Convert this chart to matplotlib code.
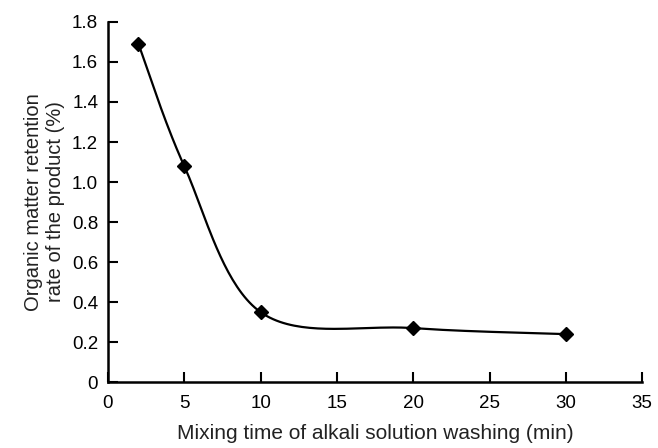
import numpy as np
import matplotlib
matplotlib.use('Agg')
import matplotlib.pyplot as plt

plt.rcParams['font.family'] = ['Liberation Sans', 'DejaVu Sans']

# data
mixing_time = [2, 5, 10, 20, 30]
retention = [1.69, 1.08, 0.35, 0.27, 0.24]

x_ticks = [0, 5, 10, 15, 20, 25, 30, 35]
y_ticks = [0, 0.2, 0.4, 0.6, 0.8, 1.0, 1.2, 1.4, 1.6, 1.8]
y_tick_labels = ['0', '0.2', '0.4', '0.6', '0.8', '1.0', '1.2', '1.4', '1.6', '1.8']


def smooth_line(xs, ys, n=40):
    # Excel style smoothed line: cubic bezier with catmull-rom control points
    xs = np.asarray(xs, float)
    ys = np.asarray(ys, float)
    px = np.concatenate([[xs[0]], xs, [xs[-1]]])
    py = np.concatenate([[ys[0]], ys, [ys[-1]]])
    out_x, out_y = [], []
    t = np.linspace(0, 1, n)
    for i in range(1, len(px) - 2):
        p0 = np.array([px[i], py[i]])
        p3 = np.array([px[i + 1], py[i + 1]])
        p1 = p0 + (np.array([px[i + 1], py[i + 1]]) - np.array([px[i - 1], py[i - 1]])) / 6
        p2 = p3 - (np.array([px[i + 2], py[i + 2]]) - np.array([px[i], py[i]])) / 6
        b = ((1 - t) ** 3)[:, None] * p0 + (3 * (1 - t) ** 2 * t)[:, None] * p1 \
            + (3 * (1 - t) * t ** 2)[:, None] * p2 + (t ** 3)[:, None] * p3
        out_x.extend(b[:, 0])
        out_y.extend(b[:, 1])
    return out_x, out_y


fig = plt.figure(figsize=(6.58, 4.48), dpi=100)
ax = fig.add_axes([0.164, 0.147, 0.812, 0.804])

sx, sy = smooth_line(mixing_time, retention)
ax.plot(sx, sy, color='black', lw=1.6)
ax.plot(mixing_time, retention, linestyle='none', marker='D', markersize=7,
        color='black')

ax.set_xlim(0, 35)
ax.set_ylim(0, 1.8)
ax.set_xticks(x_ticks)
ax.set_yticks(y_ticks)
ax.set_yticklabels(y_tick_labels)

for side in ['top', 'right']:
    ax.spines[side].set_visible(False)
for side in ['left', 'bottom']:
    ax.spines[side].set_linewidth(1.8)
ax.tick_params(direction='in', length=7, width=1.5, labelsize=13.5)
ax.tick_params(axis='x', pad=9)
ax.tick_params(axis='y', pad=7)

ax.set_xlabel('Mixing time of alkali solution washing (min)', fontsize=15,
              color='#222222', labelpad=9)
ax.set_ylabel('Organic matter retention\nrate of the product (%)', fontsize=14.5,
              color='#222222', linespacing=1.2, labelpad=5)

fig.savefig('out.png', dpi=100)
